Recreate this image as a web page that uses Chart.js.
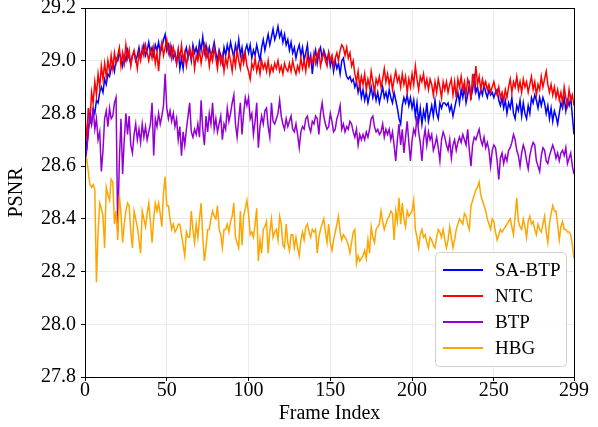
<!DOCTYPE html>
<html>
<head>
<meta charset="utf-8">
<script src="https://cdn.jsdelivr.net/npm/chart.js@4.4.1/dist/chart.umd.min.js"></script>
<style>
html,body{margin:0;padding:0;background:#fff;}
#wrap{width:598px;height:427px;}
</style>
</head>
<body>
<div id="wrap"><canvas id="graph" width="598" height="427"></canvas></div>
<script>
// フレーム番号 0..299
var frames = [];
for (var i = 0; i < 300; i++) frames.push(i);

var xTicks = [0, 50, 100, 150, 200, 250, 299];
var yTicks = [27.8, 28.0, 28.2, 28.4, 28.6, 28.8, 29.0, 29.2];
var seriesNames = ["SA-BTP", "NTC", "BTP", "HBG"];

var saBtp = [
28.72,28.66,28.74,28.78,28.76,28.82,28.80,28.85,28.84,28.88,
28.90,28.88,28.93,28.91,28.95,28.94,28.97,28.99,28.96,29.01,
29.00,29.03,29.01,28.98,29.02,29.00,29.04,29.01,28.99,29.02,
29.03,29.00,29.02,29.05,29.01,29.03,29.06,29.02,29.04,29.07,
29.03,29.05,29.02,29.06,29.04,29.07,29.03,29.05,29.08,29.10,
29.04,29.06,29.02,29.05,29.01,29.03,28.99,29.04,28.97,29.01,
28.97,29.03,29.05,29.01,29.04,29.00,29.06,29.03,29.05,29.02,
29.07,29.04,29.09,29.03,29.06,29.02,29.05,29.01,29.04,29.07,
29.03,29.00,29.04,29.02,28.99,29.05,29.02,29.06,29.03,29.07,
29.04,29.01,29.06,29.03,29.08,29.02,29.05,29.00,29.04,29.06,
29.03,29.06,29.01,29.04,29.02,29.06,29.03,29.00,29.05,29.08,
29.04,29.07,29.10,29.06,29.09,29.12,29.08,29.10,29.13,29.09,
29.11,29.07,29.10,29.06,29.08,29.04,29.07,29.03,29.05,29.01,
29.04,29.06,29.02,29.05,29.00,29.03,29.06,28.99,29.02,28.95,
29.01,29.04,28.99,29.03,29.05,29.01,29.04,29.02,29.00,29.03,
28.98,29.01,28.96,29.00,28.97,28.99,28.95,29.00,29.01,28.97,
28.94,28.93,28.94,28.92,28.93,28.90,28.92,28.88,28.91,28.86,
28.89,28.85,28.88,28.84,28.87,28.90,28.86,28.89,28.85,28.88,
28.84,28.87,28.90,28.86,28.88,28.85,28.89,28.86,28.84,28.88,
28.85,28.82,28.78,28.76,28.83,28.86,28.84,28.87,28.83,28.86,
28.82,28.85,28.79,28.84,28.77,28.82,28.76,28.81,28.78,28.84,
28.77,28.80,28.83,28.79,28.85,28.80,28.78,28.84,28.82,28.84,
28.84,28.83,28.84,28.81,28.83,28.79,28.82,28.85,28.88,28.84,
28.89,28.86,28.90,28.84,28.87,28.91,28.86,28.89,28.95,28.88,
28.90,28.86,28.89,28.87,28.91,28.88,28.86,28.89,28.87,28.88,
28.86,28.88,28.89,28.85,28.83,28.86,28.82,28.85,28.80,28.84,
28.82,28.86,28.80,28.78,28.83,28.81,28.85,28.79,28.84,28.80,
28.78,28.83,28.80,28.86,28.84,28.87,28.85,28.82,28.86,28.83,
28.86,28.84,28.80,28.83,28.78,28.82,28.77,28.81,28.79,28.76,
28.80,28.84,28.82,28.86,28.81,28.85,28.83,28.86,28.79,28.72
];

var ntc = [
28.78,28.70,28.82,28.76,28.88,28.84,28.92,28.87,28.95,28.90,
28.98,28.93,28.99,28.94,29.00,28.96,29.02,28.97,29.03,28.99,
29.02,29.05,28.98,29.03,28.99,29.06,29.01,29.04,28.98,29.02,
29.04,29.01,28.97,29.03,29.00,29.05,29.02,29.06,29.03,29.00,
29.04,29.01,29.05,28.99,29.03,28.96,29.04,29.07,29.02,29.05,
29.08,29.03,29.06,29.01,29.05,29.02,28.99,29.04,29.01,29.06,
29.00,29.03,28.98,29.02,29.05,29.01,29.04,28.97,29.02,29.00,
29.04,28.99,29.03,29.06,29.01,29.04,28.98,29.03,29.00,29.05,
29.01,28.97,29.03,28.99,29.02,28.96,29.01,28.98,29.03,29.00,
28.96,29.02,28.98,29.04,29.00,28.97,29.02,28.99,29.03,28.98,
28.96,28.93,28.99,28.97,29.01,28.96,28.99,28.95,29.00,28.97,
28.99,28.96,29.00,28.95,28.98,28.96,28.99,28.97,29.00,28.96,
28.98,28.95,28.99,28.97,28.96,28.99,28.96,29.00,28.97,28.95,
28.98,28.96,29.01,28.97,29.00,28.96,29.02,28.98,29.01,28.99,
29.03,28.99,29.02,29.04,28.98,29.01,29.03,29.00,28.98,29.03,
29.00,29.02,28.98,29.01,29.03,29.00,29.04,29.06,29.05,29.02,
29.05,29.01,29.03,28.98,29.00,28.95,28.92,28.96,28.90,28.94,
28.91,28.95,28.89,28.93,28.90,28.96,28.92,28.88,28.93,28.91,
28.94,28.90,28.93,28.97,28.92,28.95,28.91,28.94,28.89,28.93,
28.96,28.92,28.94,28.90,28.95,28.91,28.94,28.88,28.93,28.90,
28.95,28.91,28.98,28.93,28.89,28.94,28.92,28.95,28.90,28.93,
28.89,28.93,28.91,28.87,28.92,28.88,28.93,28.90,28.86,28.92,
28.89,28.92,28.88,28.91,28.93,28.87,28.92,28.86,28.93,28.90,
28.94,28.89,28.92,28.87,28.93,28.91,28.85,28.95,28.90,28.98,
28.91,28.94,28.89,28.93,28.90,28.92,28.89,28.91,28.88,28.90,
28.92,28.89,28.87,28.90,28.86,28.88,28.85,28.89,28.86,28.90,
28.93,28.88,28.92,28.90,28.94,28.89,28.92,28.88,28.93,28.90,
28.92,28.88,28.91,28.94,28.89,28.92,28.87,28.91,28.89,28.94,
28.90,28.93,28.96,28.91,28.88,28.91,28.87,28.90,28.86,28.89,
28.85,28.88,28.84,28.90,28.86,28.83,28.89,28.85,28.87,28.83
];

var btp = [
28.60,28.66,28.72,28.80,28.76,28.82,28.74,28.78,28.70,28.73,
28.58,28.66,28.78,28.81,28.75,28.82,28.78,28.79,28.84,28.86,
28.35,28.62,28.78,28.57,28.70,28.80,28.72,28.79,28.68,28.65,
28.72,28.76,28.70,28.74,28.69,28.76,28.71,28.75,28.70,28.73,
28.76,28.84,28.64,28.78,28.75,28.80,28.76,28.79,28.83,28.95,
28.82,28.78,28.81,28.77,28.80,28.75,28.78,28.70,28.75,28.64,
28.73,28.68,28.74,28.79,28.84,28.73,28.71,28.74,28.72,28.76,
28.71,28.85,28.74,28.68,28.79,28.73,28.80,28.76,28.84,28.74,
28.78,28.73,28.76,28.79,28.70,28.76,28.74,28.82,28.77,28.80,
28.84,28.87,28.76,28.71,28.78,28.84,28.72,28.80,28.86,28.83,
28.86,28.78,28.80,28.72,28.77,28.84,28.67,28.75,28.79,28.76,
28.81,28.82,28.75,28.71,28.84,28.77,28.76,28.78,28.80,28.85,
28.79,28.76,28.74,28.78,28.75,28.77,28.79,28.74,28.73,28.76,
28.72,28.67,28.73,28.75,28.74,28.78,28.79,28.75,28.73,28.77,
28.76,28.79,28.78,28.72,28.80,28.84,28.79,28.76,28.74,28.75,
28.80,28.77,28.73,28.74,28.78,28.80,28.83,28.74,28.76,28.73,
28.75,28.74,28.77,28.76,28.73,28.71,28.74,28.68,28.72,28.70,
28.72,28.70,28.73,28.71,28.74,28.78,28.79,28.75,28.73,28.74,
28.72,28.73,28.76,28.71,28.74,28.72,28.74,28.70,28.73,28.68,
28.62,28.70,28.76,28.68,28.74,28.65,28.71,28.77,28.69,28.62,
28.70,28.74,28.72,28.79,28.73,28.69,28.62,28.70,28.74,28.68,
28.73,28.70,28.72,28.66,28.68,28.71,28.67,28.62,28.70,28.73,
28.71,28.68,28.66,28.70,28.63,28.68,28.70,28.66,28.69,28.71,
28.69,28.72,28.70,28.68,28.74,28.66,28.60,28.68,28.71,28.70,
28.72,28.74,28.70,28.68,28.71,28.67,28.69,28.66,28.60,28.66,
28.68,28.67,28.62,28.55,28.63,28.65,28.61,28.64,28.62,28.66,
28.67,28.69,28.72,28.70,28.66,28.64,28.60,28.65,28.68,28.66,
28.62,28.59,28.64,28.67,28.69,28.68,28.62,28.60,28.58,28.64,
28.67,28.66,28.62,28.61,28.64,28.66,28.68,28.66,28.63,28.65,
28.62,28.65,28.66,28.64,28.67,28.61,28.63,28.65,28.60,28.57
];

var hbg = [
28.64,28.63,28.58,28.53,28.52,28.53,28.51,28.16,28.35,28.46,
28.44,28.41,28.29,28.52,28.49,28.47,28.55,28.54,28.38,28.43,
28.32,28.49,28.42,28.31,28.38,28.43,28.46,28.45,28.35,28.29,
28.43,28.40,28.37,28.32,28.27,28.43,28.40,28.37,28.42,28.46,
28.39,28.31,28.40,28.46,28.43,28.46,28.42,28.37,28.50,28.56,
28.45,28.45,28.40,28.36,28.38,28.35,28.36,28.38,28.38,28.34,
28.30,28.26,28.35,28.33,28.33,28.43,28.36,28.31,28.38,28.33,
28.40,28.46,28.33,28.24,28.29,28.36,28.36,28.40,28.43,28.41,
28.40,28.45,28.36,28.34,28.29,28.36,28.36,28.38,28.35,28.39,
28.41,28.46,28.33,28.31,28.29,28.43,28.30,28.41,28.44,28.47,
28.42,28.34,28.35,28.33,28.38,28.44,28.24,28.32,28.27,28.36,
28.37,28.39,28.27,28.35,28.40,28.33,28.35,28.36,28.32,28.41,
28.38,28.30,28.29,28.38,28.31,28.28,28.34,28.34,28.29,28.33,
28.29,28.26,28.32,28.35,28.32,28.37,28.38,28.35,28.33,28.36,
28.35,28.36,28.27,28.33,28.36,28.38,28.40,28.35,28.31,28.38,
28.31,28.28,28.32,28.35,28.38,28.41,28.35,28.32,28.34,28.33,
28.32,28.30,28.27,28.31,28.35,28.36,28.23,28.26,28.24,28.25,
28.26,28.28,28.25,28.32,28.27,28.37,28.33,28.31,28.36,28.37,
28.38,28.43,28.39,28.36,28.38,28.40,28.41,28.43,28.42,28.32,
28.43,28.39,28.48,28.38,28.46,28.40,28.37,28.43,28.41,28.42,
28.43,28.47,28.36,28.33,28.29,28.34,28.36,28.33,28.34,28.31,
28.29,28.33,28.32,28.30,28.29,28.33,28.36,28.35,28.33,28.36,
28.32,28.29,28.32,28.37,28.33,28.29,28.32,28.36,28.38,28.40,
28.39,28.38,28.42,28.41,28.38,28.36,28.45,28.47,28.49,28.51,
28.52,28.54,28.49,28.47,28.45,28.43,28.40,28.38,28.36,28.40,
28.39,28.35,28.32,28.34,28.36,28.35,28.36,28.37,28.38,28.39,
28.40,28.37,28.34,28.41,28.48,28.39,28.37,28.36,28.40,28.37,
28.33,28.39,28.41,28.38,28.39,28.36,28.34,28.38,28.36,28.35,
28.38,28.41,28.35,28.31,28.38,28.42,28.45,28.43,28.43,28.38,
28.32,28.37,28.39,28.36,28.36,28.35,28.35,28.34,28.30,28.25
];

var serifFont = "'Liberation Serif', 'Times New Roman', serif";

function toPoints(arr) {
    return arr.map(function(v, i) { return { x: frames[i], y: v }; });
}

// 枠線
var frameBox = {
    id: 'frameBox',
    afterDatasetsDraw: function(chart) {
        var a = chart.chartArea, ctx = chart.ctx;
        ctx.save();
        ctx.strokeStyle = '#000';
        ctx.lineWidth = 1;
        ctx.strokeRect(Math.round(a.left) + 0.5, Math.round(a.top) + 0.5,
            Math.round(a.right - a.left), Math.round(a.bottom - a.top));
        ctx.restore();
    }
};

// 凡例 (右下)
var legendBox = {
    id: 'legendBox',
    afterDraw: function(chart) {
        var ctx = chart.ctx, a = chart.chartArea;
        var w = 131, h = 114;
        var x = a.right - 8 - w, y = a.bottom - 11 - h;
        ctx.save();
        ctx.beginPath();
        ctx.roundRect(x + 0.5, y + 0.5, w, h, 4);
        ctx.fillStyle = 'rgba(255,255,255,0.85)';
        ctx.fill();
        ctx.strokeStyle = '#d0d0d0';
        ctx.lineWidth = 1;
        ctx.stroke();
        ctx.font = '19px ' + serifFont;
        ctx.textBaseline = 'middle';
        chart.data.datasets.forEach(function(ds, i) {
            var cy = y + 18 + i * 26;
            ctx.strokeStyle = ds.borderColor;
            ctx.lineWidth = 1.8;
            ctx.beginPath();
            ctx.moveTo(x + 8, cy);
            ctx.lineTo(x + 48, cy);
            ctx.stroke();
            ctx.fillStyle = '#000';
            ctx.fillText(ds.label, x + 60, cy + 1);
        });
        ctx.restore();
    }
};

var canvas = document.getElementById("graph");
var ctx = canvas.getContext("2d");
var colors = ['#0000ff', '#ff0000', '#9400d3', '#ffa500'];
var values = [saBtp, ntc, btp, hbg];

var datasets = values.map(function(v, i) {
    return {
        label: seriesNames[i],
        data: toPoints(v),
        borderColor: colors[i],
        backgroundColor: colors[i],
        borderWidth: 1.5,
        pointRadius: 0,
        tension: 0,
        fill: false,
        order: 3 - i
    };
});

var myChart = new Chart(ctx, {
    type: 'line',
    data: { datasets: datasets },
    options: {
        responsive: false,
        animation: false,
        layout: { padding: { left: 0, right: 24, top: 8, bottom: 0 } },
        plugins: {
            legend: { display: false },
            tooltip: { enabled: false }
        },
        scales: {
            x: {
                type: 'linear',
                min: 0,
                max: 299,
                afterBuildTicks: function(scale) {
                    scale.ticks = xTicks.map(function(v) { return { value: v }; });
                },
                afterFit: function(scale) { scale.height = 50; },
                grid: { color: '#ebebeb', lineWidth: 1, drawTicks: true, tickLength: 4, tickColor: '#000' },
                border: { display: false },
                ticks: {
                    autoSkip: false, maxRotation: 0, padding: 0, color: '#000',
                    font: { family: serifFont, size: 20, lineHeight: 1 },
                    callback: function(v) { return String(v); }
                },
                title: {
                    display: true, text: 'Frame Index', color: '#000',
                    font: { family: serifFont, size: 20 },
                    padding: { top: 0, bottom: 1 }
                }
            },
            y: {
                min: 27.8,
                max: 29.2,
                afterBuildTicks: function(scale) {
                    scale.ticks = yTicks.map(function(v) { return { value: v }; });
                },
                afterFit: function(scale) {
                    scale.width = 85;
                    scale.paddingTop = 0;
                    scale.paddingBottom = 0;
                },
                grid: { color: '#ebebeb', lineWidth: 1, drawTicks: true, tickLength: 4, tickColor: '#000' },
                border: { display: false },
                ticks: {
                    autoSkip: false, padding: 5, color: '#000',
                    font: { family: serifFont, size: 20, lineHeight: 0.5 },
                    callback: function(v) { return Number(v).toFixed(1); }
                },
                title: {
                    display: true, text: 'PSNR', color: '#000',
                    font: { family: serifFont, size: 20 },
                    padding: { top: 5, bottom: 4 }
                }
            }
        }
    },
    plugins: [frameBox, legendBox]
});
</script>
</body>
</html>
